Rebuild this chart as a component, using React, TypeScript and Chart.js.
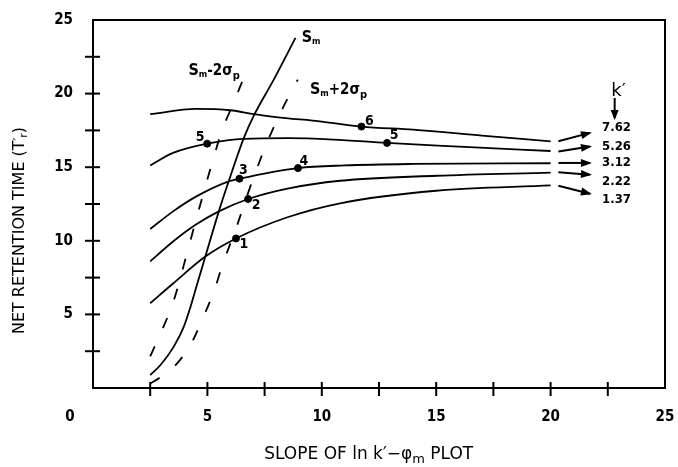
import React, { useEffect, useRef } from "react";
import { Chart, registerables } from "chart.js";

Chart.register(...registerables);

// ---------------- data ----------------
const kPrimeLabels = ["7.62", "5.26", "3.12", "2.22", "1.37"];

const curveK762: [number, number][] = [[2.5, 18.6], [4.5, 18.96], [6, 18.87], [7.05, 18.6], [8, 18.4], [10, 18.1], [11.73, 17.76], [14, 17.55], [17, 17.15], [20, 16.76]];
const curveK526: [number, number][] = [[2.5, 15.12], [3.5, 15.97], [4.99, 16.6], [6.6, 16.93], [8.5, 16.97], [10.5, 16.88], [12.85, 16.65], [16, 16.4], [20, 16.1]];
const curveK312: [number, number][] = [[2.5, 10.8], [3.5, 12.0], [4.5, 13.0], [5.93, 14.04], [6.4, 14.22], [8.96, 14.94], [11, 15.12], [14, 15.22], [20, 15.27]];
const curveK222: [number, number][] = [[2.5, 8.6], [3.5, 9.95], [4.5, 11.1], [5.5, 12.0], [6.78, 12.84], [8.5, 13.55], [10.8, 14.08], [15, 14.42], [20, 14.63]];
const curveK137: [number, number][] = [[2.5, 5.76], [3.5, 7.1], [4.91, 8.93], [6.25, 10.16], [8.5, 11.6], [10.8, 12.55], [15, 13.4], [20, 13.76]];

const curveSm: [number, number][] = [[2.5, 0.88], [2.95, 1.56], [3.53, 2.81], [3.97, 4.17], [4.26, 5.5], [4.48, 6.67], [4.91, 8.93], [5.5, 12.0], [5.93, 14.04], [6.59, 16.98], [7.05, 18.57], [7.9, 20.95], [8.85, 23.79]];
const curveSmMinus: [number, number][] = [[2.5, 2.15], [3.05, 4.06], [3.5, 5.8], [4.11, 9.16], [4.48, 11.3], [4.84, 13.3], [5.17, 15.1], [5.64, 17.5], [6.15, 19.4], [6.75, 21.7]];
const curveSmPlus: [number, number][] = [[2.5, 0.3], [2.9, 0.68], [3.48, 1.34], [4.26, 2.93], [4.8, 4.74], [5.28, 6.55], [5.71, 8.59], [6.22, 10.7], [6.7, 12.9], [7.17, 14.94], [7.68, 16.94], [8.26, 18.91], [8.95, 20.95]];

const markX = [6.25, 6.78, 6.4, 8.96, 4.99, 11.73, 12.85];
const markY = [10.16, 12.84, 14.22, 14.94, 16.6, 17.76, 16.65];
const markText = ["1", "2", "3", "4", "5", "6", "5"];

const arrowStartX = 20.34;
const arrowEndX = 21.72;
const arrowStartY = [16.76, 16.07, 15.29, 14.65, 13.74];
const arrowEndY = [17.33, 16.41, 15.29, 14.49, 13.2];
const kLabelX = 22.25;
const kLabelY = [17.69, 16.41, 15.29, 14.03, 12.79];

const xTickValues = [2.5, 5, 7.5, 10, 12.5, 15, 17.5, 20, 22.5];
const yTickValues = [2.5, 5, 7.5, 10, 12.5, 15, 17.5, 20, 22.5];
const axisMax = 25;

// ---------------- style ----------------
const FF = '"DejaVu Sans", sans-serif';
const FC = '"DejaVu Sans Condensed", "DejaVu Sans", sans-serif';
const markOffsets: [number, number][] = [[8, 6], [8, 6], [4, -8], [6, -7], [-7, -6], [8, -5], [7, -8]];

type Seg = { t: string; size: number; dy?: number; bold?: boolean; fam?: string };

function drawRich(ctx: CanvasRenderingContext2D, segs: Seg[], x: number, y: number, align: "left" | "center") {
  let total = 0;
  const widths = segs.map((s) => {
    ctx.font = `${s.bold ? "bold " : ""}${s.size}px ${s.fam || FF}`;
    const w = ctx.measureText(s.t).width;
    total += w;
    return w;
  });
  let cx = align === "center" ? x - total / 2 : x;
  ctx.textAlign = "left";
  ctx.textBaseline = "alphabetic";
  segs.forEach((s, i) => {
    ctx.font = `${s.bold ? "bold " : ""}${s.size}px ${s.fam || FF}`;
    ctx.fillText(s.t, cx, y + (s.dy || 0));
    cx += widths[i];
  });
}

function arrow(ctx: CanvasRenderingContext2D, x1: number, y1: number, x2: number, y2: number, len = 9, half = 4) {
  ctx.beginPath();
  ctx.moveTo(x1, y1);
  ctx.lineTo(x2, y2);
  ctx.stroke();
  const a = Math.atan2(y2 - y1, x2 - x1);
  ctx.beginPath();
  ctx.moveTo(x2 + Math.cos(a) * 2, y2 + Math.sin(a) * 2);
  ctx.lineTo(x2 - Math.cos(a) * len + Math.sin(a) * half, y2 - Math.sin(a) * len - Math.cos(a) * half);
  ctx.lineTo(x2 - Math.cos(a) * len - Math.sin(a) * half, y2 - Math.sin(a) * len + Math.cos(a) * half);
  ctx.closePath();
  ctx.fill();
}

const extrasPlugin = {
  id: "extras",
  afterDraw(chart: any) {
    const ctx: CanvasRenderingContext2D = chart.ctx;
    const xs = chart.scales.x;
    const ys = chart.scales.y;
    const { left, right, top, bottom } = chart.chartArea;
    ctx.save();
    ctx.strokeStyle = "#000";
    ctx.fillStyle = "#000";
    ctx.lineWidth = 2;
    // frame top/right
    ctx.beginPath();
    ctx.moveTo(left, top);
    ctx.lineTo(right, top);
    ctx.lineTo(right, bottom);
    ctx.stroke();
    // crossing ticks
    xTickValues.forEach((v) => {
      const p = xs.getPixelForValue(v);
      ctx.beginPath();
      ctx.moveTo(p, bottom - 6);
      ctx.lineTo(p, bottom + 8);
      ctx.stroke();
    });
    yTickValues.forEach((v) => {
      const p = ys.getPixelForValue(v);
      ctx.beginPath();
      ctx.moveTo(left - 8, p);
      ctx.lineTo(left + 7, p);
      ctx.stroke();
    });
    // origin and end labels
    ctx.font = `bold 15px ${FC}`;
    ctx.textAlign = "center";
    ctx.textBaseline = "middle";
    ctx.fillText("0", xs.getPixelForValue(0) - 23, bottom + 29);
    ctx.fillText(String(axisMax), xs.getPixelForValue(axisMax), bottom + 29);
    ctx.textAlign = "right";
    ctx.fillText(String(axisMax), left - 20, ys.getPixelForValue(axisMax));

    // axis titles
    drawRich(
      ctx,
      [
        { t: "SLOPE OF ln k\u2032\u2212\u03c6", size: 17 },
        { t: "m", size: 13, dy: 4 },
        { t: " PLOT", size: 17 },
      ],
      xs.getPixelForValue(12.05),
      459,
      "center"
    );
    ctx.save();
    ctx.translate(24, ys.getPixelForValue(10.7));
    ctx.rotate(-Math.PI / 2);
    drawRich(
      ctx,
      [
        { t: "NET RETENTION TIME (T", size: 16 },
        { t: "\u2032", size: 12, dy: -2 },
        { t: "r", size: 11, dy: 3 },
        { t: ")", size: 16 },
      ],
      0,
      0,
      "center"
    );
    ctx.restore();

    // curve annotations
    drawRich(ctx, [{ t: "S", size: 16, bold: true, fam: FC }, { t: "m", size: 9, bold: true, dy: 2, fam: FC }], xs.getPixelForValue(9.12), ys.getPixelForValue(23.5), "left");
    drawRich(
      ctx,
      [
        { t: "S", size: 16, bold: true, fam: FC },
        { t: "m", size: 9, bold: true, dy: 2, fam: FC },
        { t: "-2\u03c3", size: 15, bold: true, fam: FC },
        { t: "p", size: 11, bold: true, dy: 4, fam: FC },
      ],
      xs.getPixelForValue(4.17),
      ys.getPixelForValue(21.26),
      "left"
    );
    drawRich(
      ctx,
      [
        { t: "S", size: 16, bold: true, fam: FC },
        { t: "m", size: 9, bold: true, dy: 2, fam: FC },
        { t: "+2\u03c3", size: 15, bold: true, fam: FC },
        { t: "p", size: 11, bold: true, dy: 4, fam: FC },
      ],
      xs.getPixelForValue(9.48),
      ys.getPixelForValue(19.99),
      "left"
    );

    // point labels
    ctx.font = `bold 14px ${FC}`;
    ctx.textAlign = "center";
    ctx.textBaseline = "middle";
    markText.forEach((t, i) => {
      const px = xs.getPixelForValue(markX[i]) + markOffsets[i][0];
      const py = ys.getPixelForValue(markY[i]) + markOffsets[i][1];
      ctx.fillText(t, px, py);
    });

    // arrows and k' labels
    ctx.lineWidth = 2;
    kPrimeLabels.forEach((lab, i) => {
      arrow(
        ctx,
        xs.getPixelForValue(arrowStartX),
        ys.getPixelForValue(arrowStartY[i]),
        xs.getPixelForValue(arrowEndX),
        ys.getPixelForValue(arrowEndY[i])
      );
      ctx.font = `bold 13px ${FC}`;
      ctx.textAlign = "left";
      ctx.textBaseline = "middle";
      ctx.fillText(lab, xs.getPixelForValue(kLabelX), ys.getPixelForValue(kLabelY[i]));
    });
    ctx.font = `18px ${FF}`;
    ctx.textAlign = "left";
    ctx.textBaseline = "alphabetic";
    ctx.fillText("k\u2032", xs.getPixelForValue(22.65), ys.getPixelForValue(19.84));
    arrow(ctx, xs.getPixelForValue(22.8), ys.getPixelForValue(19.7), xs.getPixelForValue(22.8), ys.getPixelForValue(18.34), 8, 4);
    ctx.restore();
  },
};

function toPts(c: [number, number][]) {
  return c.map(([x, y]) => ({ x, y }));
}

const tickCb = (v: any) => {
  const n = Number(v);
  return n % 5 === 0 && n !== 0 && n !== axisMax ? String(n) : "";
};

export default function App() {
  const ref = useRef<HTMLCanvasElement | null>(null);
  useEffect(() => {
    document.body.style.margin = "0";
    if (!ref.current) return;
    const lineDs = (c: [number, number][], dash?: number[]) => ({
      data: toPts(c),
      showLine: true,
      borderColor: "#000",
      borderWidth: 1.8,
      pointRadius: 0,
      cubicInterpolationMode: "monotone" as const,
      borderDash: dash || [],
    });
    const chart = new Chart(ref.current, {
      type: "scatter",
      data: {
        datasets: [
          lineDs(curveK762),
          lineDs(curveK526),
          lineDs(curveK312),
          lineDs(curveK222),
          lineDs(curveK137),
          lineDs(curveSm),
          lineDs(curveSmMinus, [11, 20]),
          lineDs(curveSmPlus, [11, 20]),
          {
            data: markX.map((x, i) => ({ x, y: markY[i] })),
            showLine: false,
            pointRadius: 3.5,
            pointBackgroundColor: "#000",
            pointBorderColor: "#000",
          } as any,
        ],
      },
      options: {
        responsive: false,
        animation: false,
        layout: { padding: { top: 20, right: 13, left: 0, bottom: 0 } },
        plugins: { legend: { display: false }, tooltip: { enabled: false } },
        scales: {
          x: {
            type: "linear",
            min: 0,
            max: axisMax,
            grid: { display: false, drawTicks: false },
            border: { display: true, color: "#000", width: 2 },
            ticks: {
              stepSize: 2.5,
              autoSkip: false,
              maxRotation: 0,
              padding: 20,
              color: "#000",
              font: { family: FC, size: 15, weight: "bold" },
              callback: tickCb,
            },
            afterFit: (s: any) => {
              s.height = 79;
              s.paddingLeft = 0;
              s.paddingRight = 0;
            },
          },
          y: {
            type: "linear",
            min: 0,
            max: axisMax,
            grid: { display: false, drawTicks: false },
            border: { display: true, color: "#000", width: 2 },
            ticks: {
              stepSize: 2.5,
              autoSkip: false,
              padding: 20,
              color: "#000",
              font: { family: FC, size: 15, weight: "bold" },
              callback: tickCb,
            },
            afterFit: (s: any) => {
              s.width = 93;
              s.paddingTop = 0;
              s.paddingBottom = 0;
            },
          },
        },
      } as any,
      plugins: [extrasPlugin],
    });
    return () => chart.destroy();
  }, []);
  return (
    <div style={{ position: "absolute", left: 0, top: 0, width: 678, height: 467, background: "#fff" }}>
      <canvas ref={ref} width={678} height={467} />
    </div>
  );
}
